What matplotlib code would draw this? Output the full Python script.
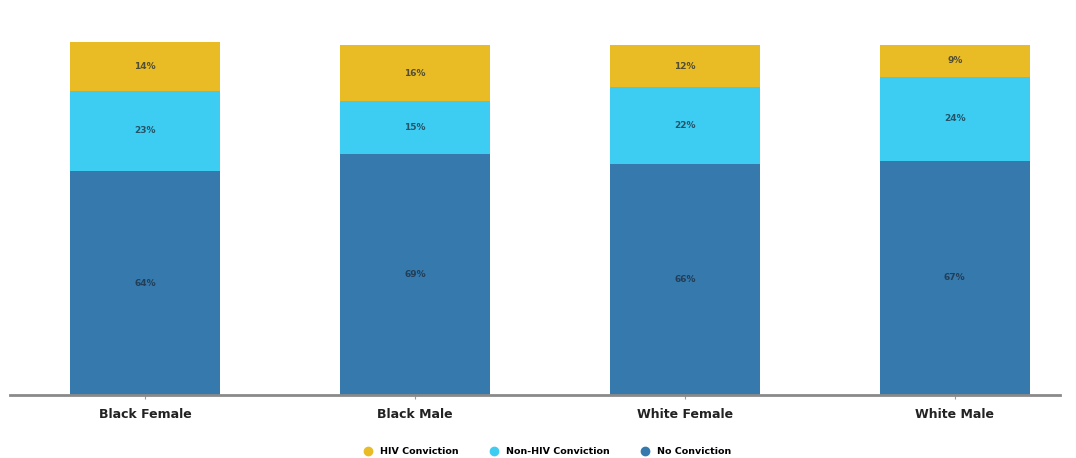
import numpy as np
import matplotlib.pyplot as plt
from matplotlib.lines import Line2D

plt.rcParams['font.family'] = ['DejaVu Sans']

groups = ["Black Female", "Black Male", "White Female", "White Male"]
no_conv = [64, 69, 66, 67]
non_hiv = [23, 15, 22, 24]
hiv_conv = [14, 16, 12, 9]

c_no = "#3579ad"
c_non = "#3dcdf2"
c_hiv = "#e9bb25"

fig = plt.figure(figsize=(10.76, 4.58), dpi=100)
ax = fig.add_axes([10 / 1076, 63 / 458, 1050 / 1076, 355 / 458])

x = np.arange(len(groups))
w = 0.556
b1 = ax.bar(x, no_conv, w, color=c_no)
b2 = ax.bar(x, non_hiv, w, bottom=no_conv, color=c_non)
bot = np.array(no_conv) + np.array(non_hiv)
b3 = ax.bar(x, hiv_conv, w, bottom=bot, color=c_hiv)

# percentage labels in the middle of each segment
for bars, vals in [(b1, no_conv), (b2, non_hiv), (b3, hiv_conv)]:
    for r, v in zip(bars, vals):
        ax.text(r.get_x() + r.get_width() / 2, r.get_y() + r.get_height() / 2,
                f"{v}%", ha="center", va="center", fontsize=6.5,
                fontweight="bold", color="#1d2a3a", alpha=0.75)

ax.set_xlim(-0.5, 3.39)
ax.set_ylim(0, 355 / 3.5)
ax.set_xticks(x)
ax.set_xticklabels(groups, fontsize=9, fontweight="bold", color="#222222")
ax.tick_params(axis="x", length=3, color="#999999", pad=6)
ax.set_yticks([])
for s in ["top", "right", "left"]:
    ax.spines[s].set_visible(False)
ax.spines["bottom"].set_color("#8a8a8a")
ax.spines["bottom"].set_linewidth(2)

handles = [Line2D([], [], marker="o", ls="", color=c, markersize=6)
           for c in [c_hiv, c_non, c_no]]
fig.legend(handles, ["HIV Conviction", "Non-HIV Conviction", "No Conviction"],
           loc="center", bbox_to_anchor=(545 / 1076, 1 - 452 / 458), ncol=3,
           frameon=False, handletextpad=0.3, columnspacing=2.7,
           prop={"weight": "bold", "size": 6.8})

fig.savefig("out.png", dpi=100)
